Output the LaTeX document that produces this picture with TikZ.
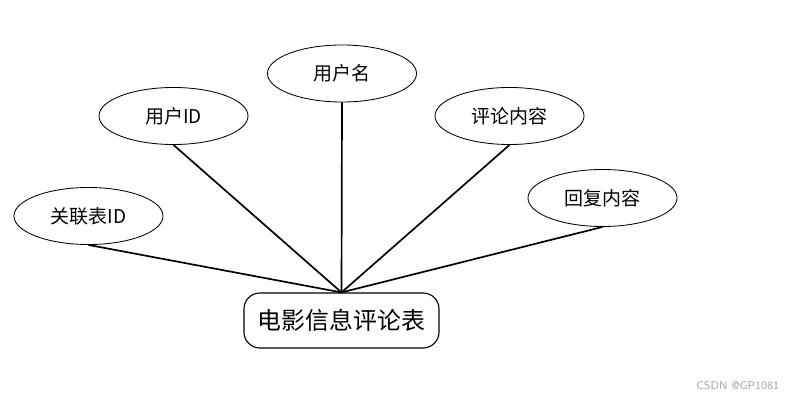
\documentclass[tikz,border=0pt]{standalone}
\usepackage{fontspec}
\usepackage{tikz}
\usetikzlibrary{shapes.geometric}
\newfontfamily\cjk{Noto Sans CJK SC}

\tikzset{
    attr/.style={ellipse, draw, line width=0.6pt, minimum width=3.725cm, minimum height=1.425cm, inner sep=0pt, font=\cjk\fontsize{13.5}{15}\selectfont},
    entity/.style={rectangle, rounded corners=0.4cm, draw, line width=0.8pt, minimum width=4.875cm, minimum height=1.375cm, inner sep=0pt, font=\cjk\fontsize{17}{19}\selectfont},
    link/.style={line width=1.2pt}
}

\begin{document}
\begin{tikzpicture}[x=0.025cm, y=-0.025cm]
    \useasboundingbox (0,0) rectangle (788,400);

    % Entity
    \node[entity] (table) at (341.5,320.5) {电影信息评论表};

    % Attributes
    \node[attr] (relid) at (88.5,216) {关联表ID};
    \node[attr] (uid) at (173.5,116) {用户ID};
    \node[attr] (uname) at (342,73.5) {用户名};
    \node[attr] (content) at (509.5,116) {评论内容};
    \node[attr] (reply) at (602.5,198) {回复内容};

    % Links
    \foreach \a in {relid, uid, uname, content, reply}
        \draw[link] (\a.south) -- (table.north);

    \node[gray!70, font=\sffamily\fontsize{8}{9.5}\selectfont, anchor=east] (mark) at (784,386) {CSDN @GP1081};
\end{tikzpicture}
\end{document}
